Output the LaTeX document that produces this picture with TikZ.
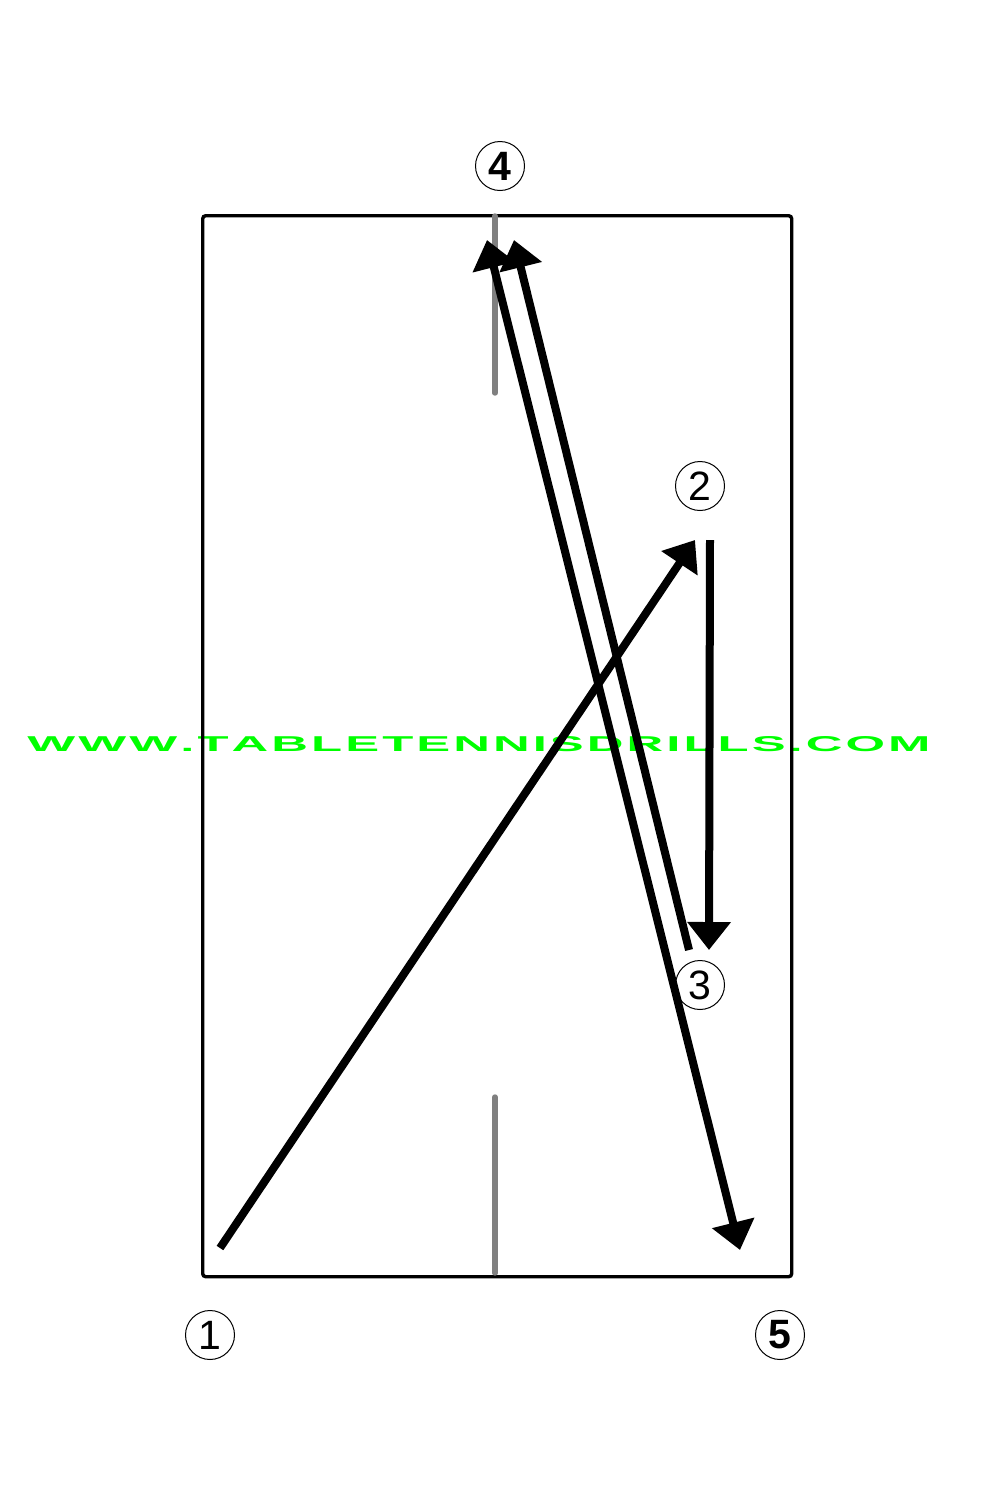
\documentclass[tikz,border=0pt]{standalone}
\usepackage{fontspec}
\setmainfont{Liberation Sans}
\usetikzlibrary{arrows.meta}
\definecolor{wmgreen}{RGB}{0,255,0}
\definecolor{netgray}{RGB}{128,128,128}
\tikzset{
  shot/.style={line width=4pt, -{Triangle[length=14pt,width=21pt]}},
  shotboth/.style={line width=4pt, {Triangle[length=14pt,width=21pt]}-{Triangle[length=14pt,width=21pt]}},
  numcirc/.style={circle, draw, line width=0.5pt, minimum size=24.5pt, inner sep=0pt, font=\fontsize{20.5pt}{20.5pt}\selectfont},
  netline/.style={draw=netgray, line width=2.7pt, line cap=round},
}
\newcommand{\wk}{\kern0.6pt}
\begin{document}
\begin{tikzpicture}[x=0.5pt,y=-0.5pt]
\useasboundingbox[fill=white] (0,0) rectangle (1000,1500);
% watermark
\node[inner sep=0pt, anchor=west, text=wmgreen] (wm) at (27,744.5)
  {\resizebox{451.5pt}{7.5pt}{\textbf{W\wk W\wk W\wk.\wk T\wk A\wk B\wk L\wk E\wk T\wk E\wk N\wk N\wk I\wk S\wk D\wk R\wk I\wk L\wk L\wk S\wk.\wk C\wk O\wk M}}};
% table
\node[draw, line width=1.7pt, rounded corners=1.5pt, minimum width=294.5pt, minimum height=530.5pt, inner sep=0pt, anchor=north west] (table) at (201,214) {};
% net marks
\coordinate (nt1) at (495,216);
\coordinate (nt2) at (495,393);
\coordinate (nb1) at (495,1097);
\coordinate (nb2) at (495,1273);
\draw[netline] (nt1) -- (nt2);
\draw[netline] (nb1) -- (nb2);
% numbers
\node[numcirc, font=\fontsize{20.5pt}{20.5pt}\selectfont\bfseries] (n4) at (500,166) {4};
\node[numcirc] (n2) at (700,486) {2};
\node[numcirc] (n3) at (700,985) {3};
\node[numcirc] (n1) at (210,1335) {1};
\node[numcirc, font=\fontsize{20.5pt}{20.5pt}\selectfont\bfseries] (n5) at (780,1335) {5};
% shot coordinates
\coordinate (s1) at (220,1248);
\coordinate (t1) at (695,540);
\coordinate (s2) at (710,540);
\coordinate (t2) at (709,950);
\coordinate (s3) at (689,950);
\coordinate (t3) at (514,240);
\coordinate (s4) at (487,240);
\coordinate (t4) at (740,1250);
\draw[shot] (s1) -- (t1);
\draw[shot] (s2) -- (t2);
\draw[shot] (s3) -- (t3);
\draw[shotboth] (s4) -- (t4);
\end{tikzpicture}
\end{document}
